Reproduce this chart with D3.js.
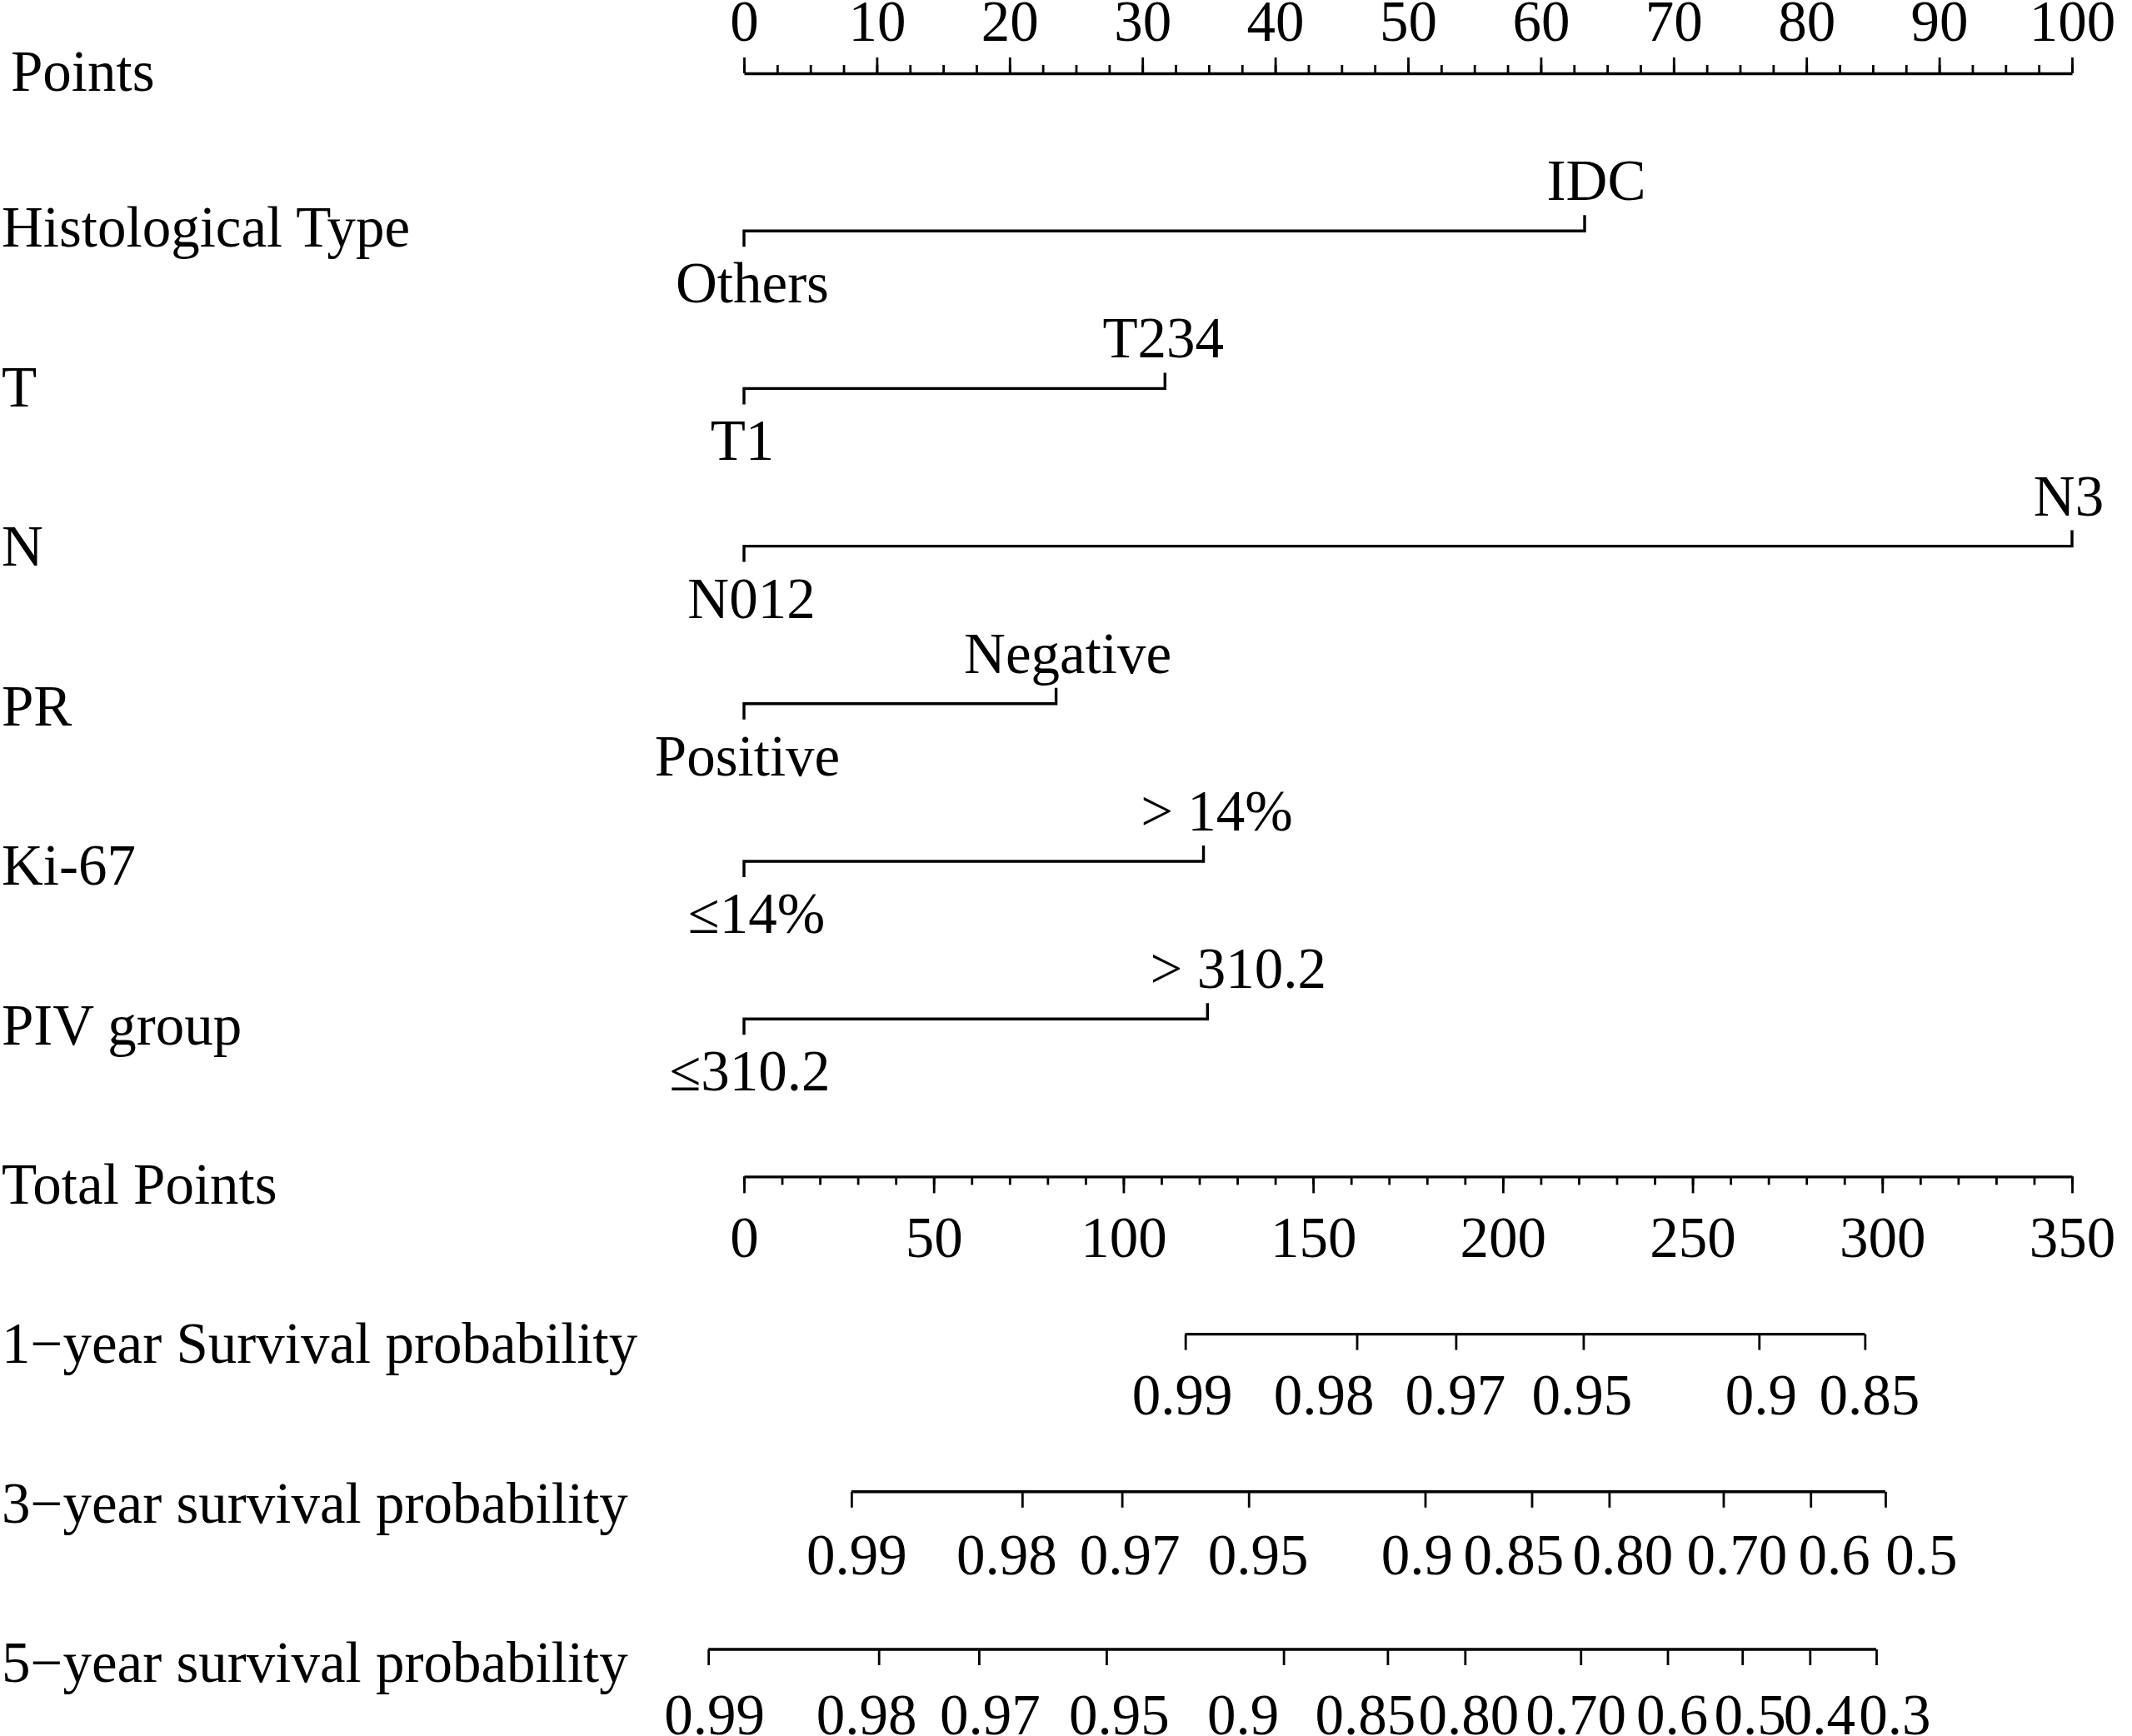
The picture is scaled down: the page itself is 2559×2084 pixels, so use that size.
<!DOCTYPE html>
<html>
<head>
<meta charset="utf-8">
<script src="https://cdn.jsdelivr.net/npm/d3@7"></script>
<style>
  body { margin: 0; background: #fff; }
  text { font-family: "Liberation Serif", "Times New Roman", serif; fill: #000; }
</style>
</head>
<body>
<div class="nomogram"></div>
<script>
// ---- data ----
const pointsMajor = [0, 10, 20, 30, 40, 50, 60, 70, 80, 90, 100];
const pointsMinor = d3.range(0, 100.01, 2.5);

const rowNames   = ["Histological Type", "T", "N", "PR", "Ki-67", "PIV group"];
const lowLabels  = ["Others", "T1", "N012", "Positive", "≤14%", "≤310.2"];
const highLabels = ["IDC", "T234", "N3", "Negative", "> 14%", "> 310.2"];
const highPoints = [63.3, 31.7, 100, 23.5, 34.6, 34.9];

const totalMajor = [0, 50, 100, 150, 200, 250, 300, 350];
const totalMinor = d3.range(0, 350.01, 10);

const survNames = ["1−year Survival probability", "3−year survival probability", "5−year survival probability"];
const surv1Labels = ["0.99", "0.98", "0.97", "0.95", "0.9", "0.85"];
const surv1Points = [116.3, 161.5, 187.6, 221.2, 267.5, 295.4];
const surv3Labels = ["0.99", "0.98", "0.97", "0.95", "0.9", "0.85", "0.80", "0.70", "0.6", "0.5"];
const surv3Points = [28.3, 73.3, 99.6, 133.0, 179.5, 207.6, 228.0, 258.1, 281.1, 300.8];
const surv5Labels = ["0.99", "0.98", "0.97", "0.95", "0.9", "0.85", "0.80", "0.70", "0.6", "0.5", "0.4", "0.3"];
const surv5Points = [-9.4, 35.5, 61.9, 95.5, 142.2, 169.6, 190.0, 220.5, 243.4, 263.1, 280.9, 298.4];

// ---- layout ----
const width = 2559, height = 2084;
const fontSize = 69;
const lineW = 3.4, tickW = 2.8;
// hand-placed label shifts in the original (px)
const lowNudge  = [10, -2, 9, 4, 15, 7];
const highNudge = [14, -2, -4, 14, 16, 37];
const labelNudge = [
  [-4, -40, -1, -2, 2, 5],
  [6, -19, 9, 11, -10, -22, 16, 16, 28, 43],
  [7, -15, 13, 15, -49, -27, 4, -6, 5, 9, 11, 22]
];

const svg = d3.select(".nomogram")
  .append("svg")
  .attr("width", width)
  .attr("height", height);

const xPts = d3.scaleLinear().domain([0, 100]).range([893, 2487]);
const xTot = d3.scaleLinear().domain([0, 350]).range([893, 2487]);
const yRow = d3.scaleLinear().domain([0, 10]).range([88, 1980]);

// left label baseline drifts slightly down the page
const labelY = i => 296 + (yRow(i) - 277) * 1.012;

function styleAxis(g) {
  g.attr("font-family", null).attr("font-size", null);
  g.selectAll("text").attr("font-size", fontSize).attr("fill", "#000");
  g.selectAll(".tick line").attr("stroke", "#000").attr("stroke-width", tickW);
  g.select(".domain").attr("stroke", "#000").attr("stroke-width", lineW);
}

// ---- Points axis ----
const topG = svg.append("g").attr("transform", `translate(0,${yRow(0)})`);
topG.append("g")
  .call(d3.axisTop(xPts).tickValues(pointsMinor).tickSize(10).tickSizeOuter(0).tickFormat(""))
  .call(styleAxis);
topG.append("g")
  .call(d3.axisTop(xPts).tickValues(pointsMajor).tickSize(19).tickSizeOuter(0).tickPadding(20))
  .call(styleAxis)
  .call(g => g.select(".domain").remove());

svg.append("text")
  .attr("x", 13).attr("y", labelY(0) + 4)
  .attr("font-size", fontSize)
  .text("Points");

// ---- predictor rows ----
rowNames.forEach((name, i) => {
  const y = yRow(i + 1);
  const x0 = xPts(0), x1 = xPts(highPoints[i]);
  svg.append("path")
    .attr("d", `M${x0},${y + 19}V${y}H${x1}V${y - 19}`)
    .attr("fill", "none")
    .attr("stroke", "#000")
    .attr("stroke-width", lineW);
  svg.append("text")
    .attr("x", 2).attr("y", labelY(i + 1))
    .attr("font-size", fontSize)
    .text(name);
  svg.append("text")
    .attr("x", x0 + lowNudge[i]).attr("y", y + 86)
    .attr("text-anchor", "middle")
    .attr("font-size", fontSize)
    .text(lowLabels[i]);
  svg.append("text")
    .attr("x", x1 + highNudge[i]).attr("y", y - 37)
    .attr("text-anchor", "middle")
    .attr("font-size", fontSize)
    .text(highLabels[i]);
});

// ---- Total Points axis ----
const totY = yRow(7);
const totG = svg.append("g").attr("transform", `translate(0,${totY})`);
totG.append("g")
  .call(d3.axisBottom(xTot).tickValues(totalMinor).tickSize(10).tickSizeOuter(0).tickFormat(""))
  .call(styleAxis);
totG.append("g")
  .call(d3.axisBottom(xTot).tickValues(totalMajor).tickSize(20).tickSizeOuter(0))
  .call(styleAxis)
  .call(g => g.select(".domain").remove())
  .call(g => g.selectAll("text").attr("y", 97).attr("dy", 0));

svg.append("text")
  .attr("x", 2).attr("y", labelY(7))
  .attr("font-size", fontSize)
  .text("Total Points");

// ---- survival axes ----
const survSets = [
  { labels: surv1Labels, pts: surv1Points },
  { labels: surv3Labels, pts: surv3Points },
  { labels: surv5Labels, pts: surv5Points }
];

survSets.forEach((s, k) => {
  const y = yRow(8 + k);
  const g = svg.append("g").attr("transform", `translate(0,${y})`);
  g.call(d3.axisBottom(xTot).tickValues(s.pts).tickSize(19).tickSizeOuter(0)
      .tickFormat((d, i) => s.labels[i]))
    .call(styleAxis)
    .call(g => g.select(".domain").remove())
    .call(g => g.selectAll("text")
      .attr("y", 96 + (y - yRow(8)) * 0.015)
      .attr("dy", 0)
      .attr("dx", (d, i) => labelNudge[k][i]));
  g.append("line")
    .attr("x1", xTot(s.pts[0]))
    .attr("x2", xTot(s.pts[s.pts.length - 1]))
    .attr("stroke", "#000")
    .attr("stroke-width", lineW);

  svg.append("text")
    .attr("x", 2).attr("y", labelY(8 + k))
    .attr("font-size", fontSize)
    .text(survNames[k]);
});
</script>
</body>
</html>
